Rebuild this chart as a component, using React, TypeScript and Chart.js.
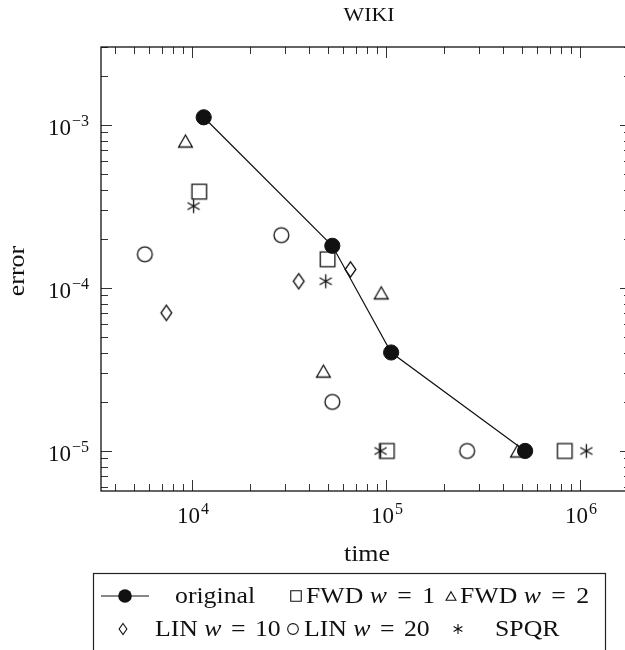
import React, { useEffect, useRef } from 'react';
import { Chart, registerables } from 'chart.js';

Chart.register(...registerables);

// ---------------- data ----------------
const titleText = 'WIKI';
const xAxisLabel = 'time';
const yAxisLabel = 'error';

const originalTime = [1.15e4, 5.29e4, 1.063e5, 5.21e5];
const originalError = [1.115e-3, 1.815e-4, 4.02e-5, 1.0e-5];

const fwd1Time = [1.09e4, 5.0e4, 1.01e5, 8.34e5];
const fwd1Error = [3.9e-4, 1.5e-4, 1.0e-5, 1.0e-5];

const fwd2Time = [9.26e3, 4.76e4, 9.45e4, 4.76e5];
const fwd2Error = [7.97e-4, 3.09e-5, 9.34e-5, 1.0e-5];

const lin10Time = [7.38e3, 3.55e4, 6.56e4];
const lin10Error = [7.04e-5, 1.1e-4, 1.3e-4];

const lin20Time = [5.72e3, 2.89e4, 5.29e4, 2.62e5];
const lin20Error = [1.61e-4, 2.11e-4, 2.0e-5, 1.0e-5];

const spqrTime = [1.02e4, 4.89e4, 9.38e4, 1.077e6];
const spqrError = [3.18e-4, 1.1e-4, 1.0e-5, 1.0e-5];

const xTickExponents = [4, 5, 6];
const yTickExponents = [-3, -4, -5];
const xMin = 3.4e3;
const xMax = 1.83e6;
const yMin = 5.68e-6;
const yMax = 3.01e-3;

// legend rows: [marker, label runs]
type Run = { t: string; it?: boolean; gap?: number };
const legendRow1: { marker: string; runs: Run[] }[] = [
  { marker: 'dotline', runs: [{ t: 'original' }] },
  { marker: 'square', runs: [{ t: 'FWD ' }, { t: 'w', it: true, gap: 4 }, { t: ' = ', gap: 4 }, { t: '1' }] },
  { marker: 'triangle', runs: [{ t: 'FWD ' }, { t: 'w', it: true, gap: 4 }, { t: ' = ', gap: 4 }, { t: '2' }] },
];
const legendRow2: { marker: string; runs: Run[] }[] = [
  { marker: 'diamond', runs: [{ t: 'LIN ' }, { t: 'w', it: true, gap: 3 }, { t: ' = ', gap: 3 }, { t: '10' }] },
  { marker: 'circle', runs: [{ t: 'LIN ' }, { t: 'w', it: true, gap: 3 }, { t: ' = ', gap: 3 }, { t: '20' }] },
  { marker: 'star', runs: [{ t: 'SPQR' }] },
];

// ---------------- helpers ----------------
const INK = '#111';
const SERIF = '"Liberation Serif", "Times New Roman", serif';

function drawMarker(ctx: CanvasRenderingContext2D, kind: string, x: number, y: number, s: number, lw = 1.25) {
  ctx.save();
  ctx.strokeStyle = INK;
  ctx.fillStyle = INK;
  ctx.lineWidth = lw;
  ctx.beginPath();
  if (kind === 'square') {
    const h = 7.3 * s;
    ctx.rect(x - h, y - h, 2 * h, 2 * h);
    ctx.stroke();
  } else if (kind === 'triangle') {
    const w = 6.9 * s;
    const h = 6.0 * s;
    ctx.moveTo(x, y - h);
    ctx.lineTo(x + w, y + h);
    ctx.lineTo(x - w, y + h);
    ctx.closePath();
    ctx.stroke();
  } else if (kind === 'diamond') {
    const w = 5.4 * s;
    const h = 7.6 * s;
    ctx.moveTo(x, y - h);
    ctx.lineTo(x + w, y);
    ctx.lineTo(x, y + h);
    ctx.lineTo(x - w, y);
    ctx.closePath();
    ctx.stroke();
  } else if (kind === 'circle') {
    ctx.arc(x, y, 7.4 * s, 0, Math.PI * 2);
    ctx.stroke();
  } else if (kind === 'star') {
    const r = 7.0 * s;
    for (const a of [90, 30, 150]) {
      const rad = (a * Math.PI) / 180;
      ctx.moveTo(x - Math.cos(rad) * r, y - Math.sin(rad) * r);
      ctx.lineTo(x + Math.cos(rad) * r, y + Math.sin(rad) * r);
    }
    ctx.stroke();
  } else if (kind === 'dot') {
    ctx.arc(x, y, 7.6 * s, 0, Math.PI * 2);
    ctx.fill();
  }
  ctx.restore();
}

function markerCanvas(kind: string): HTMLCanvasElement {
  const c = document.createElement('canvas');
  c.width = 21;
  c.height = 21;
  const ctx = c.getContext('2d')!;
  drawMarker(ctx, kind, 10.5, 10.5, 1, 1.3);
  return c;
}

function drawText(
  ctx: CanvasRenderingContext2D,
  str: string,
  x: number,
  y: number,
  font: string,
  align: 'left' | 'center' | 'right',
  sx = 1
) {
  ctx.save();
  ctx.font = font;
  const w = ctx.measureText(str).width * sx;
  const x0 = align === 'center' ? x - w / 2 : align === 'right' ? x - w : x;
  ctx.translate(x0, y);
  ctx.scale(sx, 1);
  ctx.textAlign = 'left';
  ctx.fillStyle = INK;
  ctx.fillText(str, 0, 0);
  ctx.restore();
  return w;
}

function drawRuns(ctx: CanvasRenderingContext2D, runs: Run[], x: number, y: number, size: number, sx: number) {
  let cx = x;
  for (const r of runs) {
    const font = `${r.it ? 'italic ' : ''}${size}px ${SERIF}`;
    cx += drawText(ctx, r.t, cx, y, font, 'left', sx) + (r.gap || 0);
  }
}

function powerLabel(ctx: CanvasRenderingContext2D, exp: number, x: number, y: number, align: 'center' | 'right') {
  const base = '10';
  const sup = exp < 0 ? '\u2212' + String(-exp) : String(exp);
  const bf = `23px ${SERIF}`;
  const ef = `16px ${SERIF}`;
  ctx.save();
  ctx.font = bf;
  const bw = ctx.measureText(base).width;
  ctx.font = ef;
  const ew = ctx.measureText(sup).width + 1;
  ctx.restore();
  const total = bw + ew;
  const x0 = align === 'center' ? x - total / 2 : x - total;
  drawText(ctx, base, x0, y, bf, 'left');
  drawText(ctx, sup, x0 + bw + 1, y - 9, ef, 'left');
}

const framePlugin = {
  id: 'pgfFrame',
  beforeDatasetsDraw(chart: any) {
    const { ctx, chartArea } = chart;
    const { left, right, top, bottom } = chartArea;
    const xs = chart.scales.x;
    const ys = chart.scales.y;
    ctx.save();
    ctx.strokeStyle = '#333';
    ctx.lineWidth = 1;
    ctx.beginPath();
    for (let k = 3; k <= 6; k++) {
      for (let m = 1; m <= 9; m++) {
        const v = m * Math.pow(10, k);
        if (v < xMin || v > xMax) continue;
        const px = Math.round(xs.getPixelForValue(v)) + 0.5;
        const len = m === 1 ? 11 : 7;
        ctx.moveTo(px, bottom);
        ctx.lineTo(px, bottom - len);
        ctx.moveTo(px, top);
        ctx.lineTo(px, top + len);
      }
    }
    for (let k = -6; k <= -3; k++) {
      for (let m = 1; m <= 9; m++) {
        const v = m * Math.pow(10, k);
        if (v < yMin || v > yMax) continue;
        const py = Math.round(ys.getPixelForValue(v)) + 0.5;
        const len = m === 1 ? 11 : 7;
        ctx.moveTo(left, py);
        ctx.lineTo(left + len, py);
        ctx.moveTo(right, py);
        ctx.lineTo(right - len, py);
      }
    }
    ctx.stroke();
    ctx.lineWidth = 1.3;
    ctx.strokeStyle = '#111';
    ctx.strokeRect(left, top, right - left, bottom - top);
    ctx.restore();
  },
  afterDraw(chart: any) {
    const { ctx, chartArea } = chart;
    const { left, top, bottom } = chartArea;
    const xs = chart.scales.x;
    const ys = chart.scales.y;

    // tick labels
    for (const e of xTickExponents) {
      const px = xs.getPixelForValue(Math.pow(10, e));
      powerLabel(ctx, e, px + 1, bottom + 32, 'center');
    }
    for (const e of yTickExponents) {
      const py = ys.getPixelForValue(Math.pow(10, e));
      powerLabel(ctx, e, left - 12, py + 10, 'right');
    }

    // title
    drawText(ctx, titleText, 369, 21, `19px ${SERIF}`, 'center', 1.15);

    // axis labels
    drawText(ctx, xAxisLabel, 367, 561, `24px ${SERIF}`, 'center', 1.08);
    ctx.save();
    ctx.translate(24, (top + bottom) / 2 + 2);
    ctx.rotate(-Math.PI / 2);
    drawText(ctx, yAxisLabel, 0, 0, `24px ${SERIF}`, 'center', 1.08);
    ctx.restore();

    // legend box
    ctx.save();
    ctx.strokeStyle = '#222';
    ctx.lineWidth = 1.2;
    ctx.strokeRect(93.5, 573.5, 512, 120);
    ctx.restore();

    const size = 23;
    const sx = 1.12;
    const r1y = 596;
    const r1b = 603;
    const r2y = 629;
    const r2b = 636;
    const r1marker = [125, 296, 451];
    const r1text = [175, 306, 460];
    const r2marker = [123, 293, 458];
    const r2text = [155, 304, 495];

    legendRow1.forEach((it, i) => {
      if (it.marker === 'dotline') {
        ctx.save();
        ctx.strokeStyle = INK;
        ctx.lineWidth = 1.2;
        ctx.beginPath();
        ctx.moveTo(101, r1y);
        ctx.lineTo(149, r1y);
        ctx.stroke();
        ctx.restore();
        drawMarker(ctx, 'dot', r1marker[i], r1y, 0.9);
      } else {
        drawMarker(ctx, it.marker, r1marker[i], r1y, 0.72, 1.1);
      }
      drawRuns(ctx, it.runs, r1text[i], r1b, size, sx);
    });
    legendRow2.forEach((it, i) => {
      drawMarker(ctx, it.marker, r2marker[i], r2y, 0.72, 1.1);
      drawRuns(ctx, it.runs, r2text[i], r2b, size, sx);
    });
  },
};

function pts(xs: number[], ys: number[]) {
  return xs.map((x, i) => ({ x, y: ys[i] }));
}

export default function App() {
  const ref = useRef<HTMLCanvasElement | null>(null);

  useEffect(() => {
    document.body.style.margin = '0';
    const canvas = ref.current!;
    const styles: Record<string, HTMLCanvasElement> = {
      square: markerCanvas('square'),
      triangle: markerCanvas('triangle'),
      diamond: markerCanvas('diamond'),
      circle: markerCanvas('circle'),
      star: markerCanvas('star'),
    };
    const open = (label: string, data: any[], kind: string) => ({
      label,
      data,
      showLine: false,
      pointStyle: styles[kind],
      pointRadius: 8,
      pointHoverRadius: 8,
      borderColor: INK,
      backgroundColor: 'transparent',
    });

    const chart = new Chart(canvas, {
      type: 'scatter',
      data: {
        datasets: [
          {
            label: 'original',
            data: pts(originalTime, originalError),
            showLine: true,
            borderColor: INK,
            borderWidth: 1.2,
            backgroundColor: INK,
            pointStyle: 'circle',
            pointRadius: 7.6,
            pointHoverRadius: 7.6,
            pointBackgroundColor: INK,
            pointBorderColor: INK,
            pointBorderWidth: 1,
          },
          open('FWD w = 1', pts(fwd1Time, fwd1Error), 'square'),
          open('FWD w = 2', pts(fwd2Time, fwd2Error), 'triangle'),
          open('LIN w = 10', pts(lin10Time, lin10Error), 'diamond'),
          open('LIN w = 20', pts(lin20Time, lin20Error), 'circle'),
          open('SPQR', pts(spqrTime, spqrError), 'star'),
        ] as any,
      },
      options: {
        animation: false,
        responsive: false,
        devicePixelRatio: 1,
        layout: { padding: { left: 101, right: 5, top: 47, bottom: 159 } },
        scales: {
          x: { type: 'logarithmic', min: xMin, max: xMax, display: false },
          y: { type: 'logarithmic', min: yMin, max: yMax, display: false },
        },
        plugins: {
          legend: { display: false },
          title: { display: false },
          tooltip: { enabled: false },
        },
        events: [],
      },
      plugins: [framePlugin],
    });
    return () => chart.destroy();
  }, []);

  return (
    <div style={{ width: 625, height: 650, overflow: 'hidden', position: 'relative', background: '#fff' }}>
      <canvas ref={ref} width={640} height={650} style={{ display: 'block' }} />
    </div>
  );
}
